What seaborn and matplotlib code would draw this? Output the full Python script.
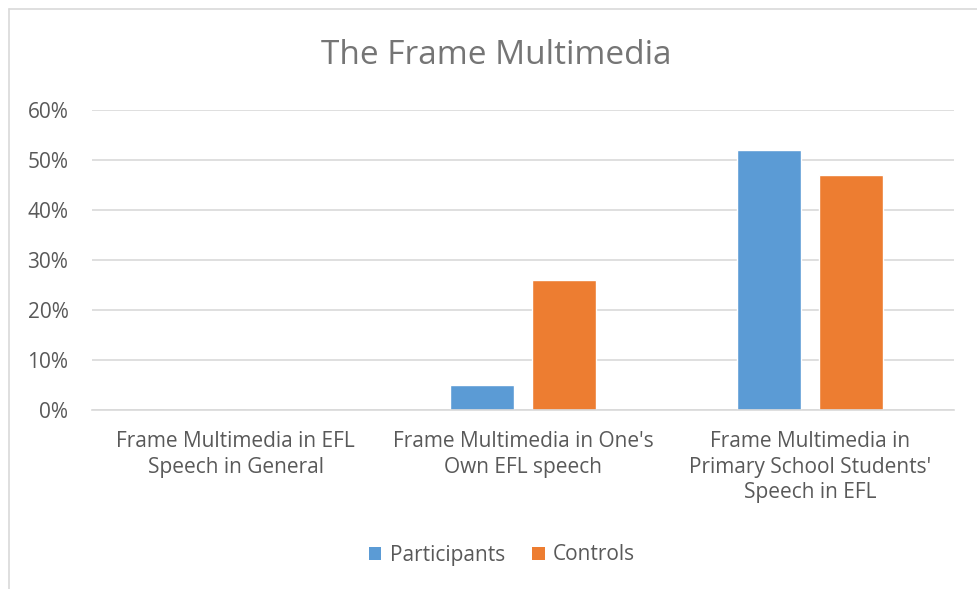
import matplotlib
matplotlib.use("Agg")
import matplotlib.pyplot as plt
import seaborn as sns
import pandas as pd
from matplotlib.lines import Line2D
from matplotlib.patches import Patch
from matplotlib.ticker import FuncFormatter

categories = ["Frame Multimedia in EFL\nSpeech in General",
              "Frame Multimedia in One's\nOwn EFL speech",
              "Frame Multimedia in\nPrimary School Students'\nSpeech in EFL"]
series = ["Participants", "Controls"]
participants = [0.0, 0.05, 0.52]
controls = [0.0, 0.26, 0.47]
colors = ["#5B9BD5", "#ED7D31"]

df = pd.DataFrame({
    "category": categories * 2,
    "series": [series[0]] * 3 + [series[1]] * 3,
    "value": participants + controls,
})

sns.set_theme(style="white")
plt.rcParams["font.family"] = ["Open Sans", "DejaVu Sans"]

fig = plt.figure(figsize=(9.77, 5.89), dpi=100)
ax = fig.add_axes([92/977, 1-410/589, (954-92)/977, 300/589])

sns.barplot(data=df, x="category", y="value", hue="series", palette=colors,
            width=0.571, gap=0.22, ax=ax, legend=False, saturation=1)

ax.set_ylim(0, 0.6)
ax.set_yticks([0, 0.1, 0.2, 0.3, 0.4, 0.5, 0.6])
ax.yaxis.set_major_formatter(FuncFormatter(lambda v, p: f"{v*100:.0f}%"))
ax.grid(axis="y", color="#D9D9D9", linewidth=1.2)
ax.set_axisbelow(True)
for s in ["top", "right", "left"]:
    ax.spines[s].set_visible(False)
ax.spines["bottom"].set_color("#D9D9D9")
ax.spines["bottom"].set_linewidth(1.2)
ax.tick_params(axis="both", length=0, labelsize=15, colors="#595959")
ax.tick_params(axis="y", pad=17)
ax.tick_params(axis="x", pad=15)
for lbl in ax.get_xticklabels():
    lbl.set_linespacing(1.3)
ax.set_xlabel("")
ax.set_ylabel("")
ax.set_xlim(-0.5, 2.5)

fig.text(496/977, 1-55/589, "The Frame Multimedia", ha="center", va="center",
         fontsize=24, color="#757575")

handles = [Patch(facecolor=c, edgecolor="none") for c in colors]
fig.legend(handles, series, loc="center", bbox_to_anchor=(502/977, 1-555/589),
           ncol=2, frameon=False, fontsize=15, labelcolor="#595959",
           handlelength=0.6, handleheight=0.6, columnspacing=1.3, handletextpad=0.4)

fig.add_artist(Line2D([9/977, 1], [1-9/589, 1-9/589], color="#D9D9D9", lw=1.2, transform=fig.transFigure))
fig.add_artist(Line2D([9/977, 9/977], [0, 1-9/589], color="#D9D9D9", lw=1.2, transform=fig.transFigure))

fig.savefig("out.png", dpi=100)
